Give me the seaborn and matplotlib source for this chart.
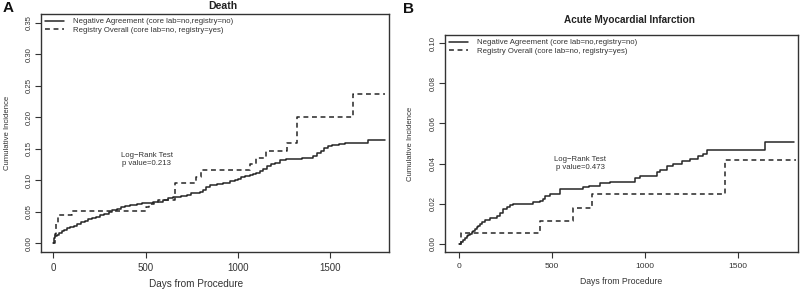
import numpy as np
import pandas as pd
import seaborn as sns
import matplotlib
matplotlib.use("Agg")
import matplotlib.pyplot as plt

# ---------------- data ----------------
# Panel A: Death
a_neg_days = [0, 3, 6, 10, 18, 30, 45, 60, 75, 90, 110, 130, 150, 170, 190, 210, 232, 253, 275,
              300, 320, 343, 365, 390, 415, 434, 455, 480, 506, 540, 578, 595, 620, 651, 690,
              723, 745, 770, 795, 810, 830, 850, 885, 922, 960, 985, 1000, 1020, 1040, 1067,
              1085, 1100, 1120, 1139, 1157, 1180, 1200, 1229, 1260, 1300, 1350, 1392, 1410,
              1430, 1450, 1470, 1490, 1510, 1550, 1580, 1708, 1800]
a_neg_vals = [0, 0.004, 0.008, 0.011, 0.0135, 0.016, 0.019, 0.021, 0.024, 0.026, 0.028, 0.030,
              0.033, 0.035, 0.038, 0.040, 0.042, 0.044, 0.046, 0.049, 0.052, 0.055, 0.057,
              0.059, 0.060, 0.061, 0.062, 0.0635, 0.0646, 0.065, 0.066, 0.068, 0.071, 0.0735,
              0.075, 0.077, 0.079, 0.080, 0.082, 0.085, 0.089, 0.092, 0.094, 0.096, 0.099,
              0.101, 0.1027, 0.105, 0.106, 0.108, 0.110, 0.112, 0.115, 0.1185, 0.122, 0.125,
              0.128, 0.132, 0.134, 0.1345, 0.135, 0.136, 0.139, 0.143, 0.147, 0.151, 0.154,
              0.1565, 0.158, 0.159, 0.1646, 0.1646]
a_reg_days = [0, 8, 17, 27, 100, 500, 520, 545, 570, 660, 775, 800, 1065, 1100, 1155, 1265,
              1320, 1625, 1800]
a_reg_vals = [0, 0.015, 0.030, 0.045, 0.051, 0.057, 0.062, 0.065, 0.069, 0.096, 0.105, 0.116,
              0.126, 0.135, 0.147, 0.159, 0.201, 0.237, 0.237]

# Panel B: Acute Myocardial Infarction
b_neg_days = [0, 10, 20, 30, 41, 50, 60, 70, 77, 86, 95, 104, 113, 125, 140, 167, 202, 220, 238,
              256, 274, 292, 373, 400, 435, 450, 462, 489, 543, 668, 700, 757, 811, 945, 972,
              1062, 1080, 1115, 1151, 1196, 1240, 1285, 1312, 1330, 1645, 1800]
b_neg_vals = [0, 0.001, 0.002, 0.003, 0.0038, 0.0045, 0.0052, 0.006, 0.0067, 0.0075, 0.0082,
              0.009, 0.0097, 0.0108, 0.0117, 0.0127, 0.0138, 0.0155, 0.0172, 0.0183, 0.0193,
              0.0197, 0.0200, 0.0210, 0.0213, 0.0225, 0.0238, 0.0250, 0.0272, 0.0283, 0.0290,
              0.0301, 0.0310, 0.0330, 0.0338, 0.0357, 0.0370, 0.0387, 0.0400, 0.0412, 0.0424,
              0.0437, 0.0450, 0.0468, 0.0508, 0.0508]
b_reg_days = [0, 10, 435, 615, 713, 1428, 1810]
b_reg_vals = [0, 0.0055, 0.0113, 0.018, 0.0247, 0.0418, 0.0418]

neg_label = "Negative Agreement (core lab=no,registry=no)"
reg_label = "Registry Overall (core lab=no, registry=yes)"

a_yticks = [0.00, 0.05, 0.10, 0.15, 0.20, 0.25, 0.30, 0.35]
b_yticks = [0.00, 0.02, 0.04, 0.06, 0.08, 0.10]
x_ticks = [0, 500, 1000, 1500]

# ---------------- style ----------------
sns.set_theme(style="white")
plt.rcParams["font.family"] = ["Liberation Sans", "DejaVu Sans"]
plt.rcParams["axes.edgecolor"] = "#333333"
plt.rcParams["axes.linewidth"] = 1.0

fig = plt.figure(figsize=(8.0, 2.9), dpi=100)
W, H = 800.0, 290.0


def axes_px(l, r, t, b):
    return fig.add_axes([l / W, (H - b) / H, (r - l) / W, (b - t) / H])


axA = axes_px(41, 389, 14, 252)
axB = axes_px(445, 798, 35, 252)

line_col = "#262626"


def make_df(days, vals, name):
    return pd.DataFrame({"day": days, "inc": vals, "group": name})


def draw(ax, neg_d, neg_v, reg_d, reg_v, yticks, ylim, xlim, fs_xt, fs_xl, xl_x, yl_x):
    dfn = make_df(neg_d, neg_v, neg_label)
    dfr = make_df(reg_d, reg_v, reg_label)
    sns.lineplot(data=dfn, x="day", y="inc", ax=ax, color=line_col, lw=1.1,
                 drawstyle="steps-post", label=neg_label, estimator=None, sort=False)
    sns.lineplot(data=dfr, x="day", y="inc", ax=ax, color=line_col, lw=1.1,
                 drawstyle="steps-post", label=reg_label, estimator=None, sort=False,
                 linestyle=(0, (3.2, 2.4)))
    ax.set_xlim(*xlim)
    ax.set_ylim(*ylim)
    ax.set_xticks(x_ticks)
    ax.set_yticks(yticks)
    ax.set_yticklabels([f"{v:.2f}" for v in yticks], rotation=90, va="center",
                       fontsize=5.6, color="#333333")
    ax.set_xticklabels([str(v) for v in x_ticks], fontsize=fs_xt, color="#333333")
    ax.tick_params(axis="both", which="both", direction="out", length=4, width=0.8,
                   color="#333333", left=True, bottom=True, top=False, right=False)
    ax.tick_params(axis="y", pad=2)
    ax.tick_params(axis="x", pad=4)
    ax.set_xlabel("Days from Procedure", fontsize=fs_xl, color="#333333")
    ax.xaxis.set_label_coords(xl_x, -0.115)
    ax.set_ylabel("Cumulative Incidence", fontsize=5.6, color="#333333")
    ax.yaxis.set_label_coords(yl_x, 0.5)
    for s in ax.spines.values():
        s.set_visible(True)
        s.set_color("#333333")
    leg = ax.legend(loc="upper left", frameon=False, fontsize=5.6, handlelength=2.4,
                    handletextpad=1.2, borderaxespad=0.2, labelspacing=0.15,
                    borderpad=0.3)
    for t in leg.get_texts():
        t.set_color("#333333")


draw(axA, a_neg_days, a_neg_vals, a_reg_days, a_reg_vals, a_yticks, (-0.014, 0.364),
     (-67, 1820), 7.0, 7.2, 0.445, (11 - 41) / 348)
draw(axB, b_neg_days, b_neg_vals, b_reg_days, b_reg_vals, b_yticks, (-0.004, 0.104),
     (-75, 1821), 6.0, 6.2, 0.5, (414 - 445) / 353)

axA.text(506, 0.140, "Log\u2212Rank Test", ha="center", va="center", fontsize=5.6,
         color="#333333")
axA.text(506, 0.127, "p value=0.213", ha="center", va="center", fontsize=5.6,
         color="#333333")
axB.text(650, 0.042, "Log\u2212Rank Test", ha="center", va="center", fontsize=5.6,
         color="#333333")
axB.text(650, 0.038, "p value=0.473", ha="center", va="center", fontsize=5.6,
         color="#333333")

fig.text(223 / W, 1 - 6 / H, "Death", ha="center", va="center", fontsize=7.6,
         fontweight="bold", color="#222222")
fig.text(629 / W, 1 - 20 / H, "Acute Myocardial Infarction", ha="center", va="center",
         fontsize=7.2, fontweight="bold", color="#222222")
fig.text(8 / W, 1 - 8 / H, "A", ha="center", va="center", fontsize=11,
         fontweight="bold", color="#111111")
fig.text(408 / W, 1 - 9 / H, "B", ha="center", va="center", fontsize=11,
         fontweight="bold", color="#111111")

fig.savefig("out.png", dpi=100)
